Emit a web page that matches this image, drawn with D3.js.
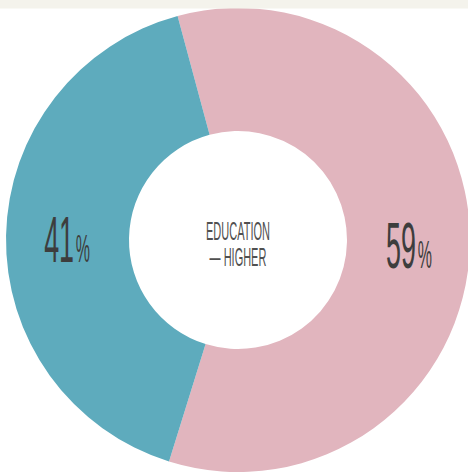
<!DOCTYPE html>
<html>
<head>
<meta charset="utf-8">
<script src="https://cdn.jsdelivr.net/npm/d3@7"></script>
<style>
  html, body { margin: 0; padding: 0; background: #fff; }
  svg { display: block; }
</style>
</head>
<body>
<div id="chart"></div>
<script>
// data
const categories = ["Higher", "Not higher"];
const values = [59, 41];
const colors = ["#e1b5be", "#5eabbd"];
const centerLines = ["EDUCATION", "\u2014 HIGHER"];

const width = 468, height = 472;
const cx = 238, cy = 240;
const outerR = 232, innerR = 109, labelR = 171;
const startDeg = -15.1;

const svg = d3.select("#chart").append("svg")
    .attr("width", width)
    .attr("height", height);

const g = svg.append("g").attr("transform", `translate(${cx},${cy})`);

const pie = d3.pie()
    .sort(null)
    .value((d) => d)
    .startAngle(startDeg * Math.PI / 180)
    .endAngle(startDeg * Math.PI / 180 + 2 * Math.PI);

const arcs = pie(values);

const arc = d3.arc().innerRadius(innerR).outerRadius(outerR);
const labelArc = d3.arc().innerRadius(labelR).outerRadius(labelR);

g.selectAll("path.slice")
    .data(arcs)
    .join("path")
    .attr("class", "slice")
    .attr("fill", (d, i) => colors[i])
    .attr("d", arc);

// top beige strip
svg.append("rect")
    .attr("x", 0).attr("y", 0)
    .attr("width", width).attr("height", 8.5)
    .attr("fill", "#f4f3ec");

// percentage labels
const labels = g.selectAll("g.lbl")
    .data(arcs)
    .join("g")
    .attr("class", "lbl")
    .attr("transform", (d) => {
        const [x, y] = labelArc.centroid(d);
        return `translate(${x},${y + 25}) scale(0.42,1)`;
    });

const t = labels.append("text")
    .attr("text-anchor", "middle")
    .attr("font-family", "'Liberation Sans', Arial, sans-serif")
    .attr("fill", "#3d3d3d");

t.append("tspan")
    .attr("font-size", 64)
    .text((d) => d.data);
t.append("tspan")
    .attr("font-size", 38)
    .attr("dx", 4)
    .text("%");

// center label
const center = g.append("g").attr("transform", "translate(0,0) scale(0.44,1)");
center.selectAll("text")
    .data(centerLines)
    .join("text")
    .attr("text-anchor", "middle")
    .attr("y", (d, i) => 0 + i * 26)
    .attr("font-family", "'Liberation Sans', Arial, sans-serif")
    .attr("font-size", 25)
    .attr("fill", "#505050")
    .text((d) => d);
</script>
</body>
</html>
